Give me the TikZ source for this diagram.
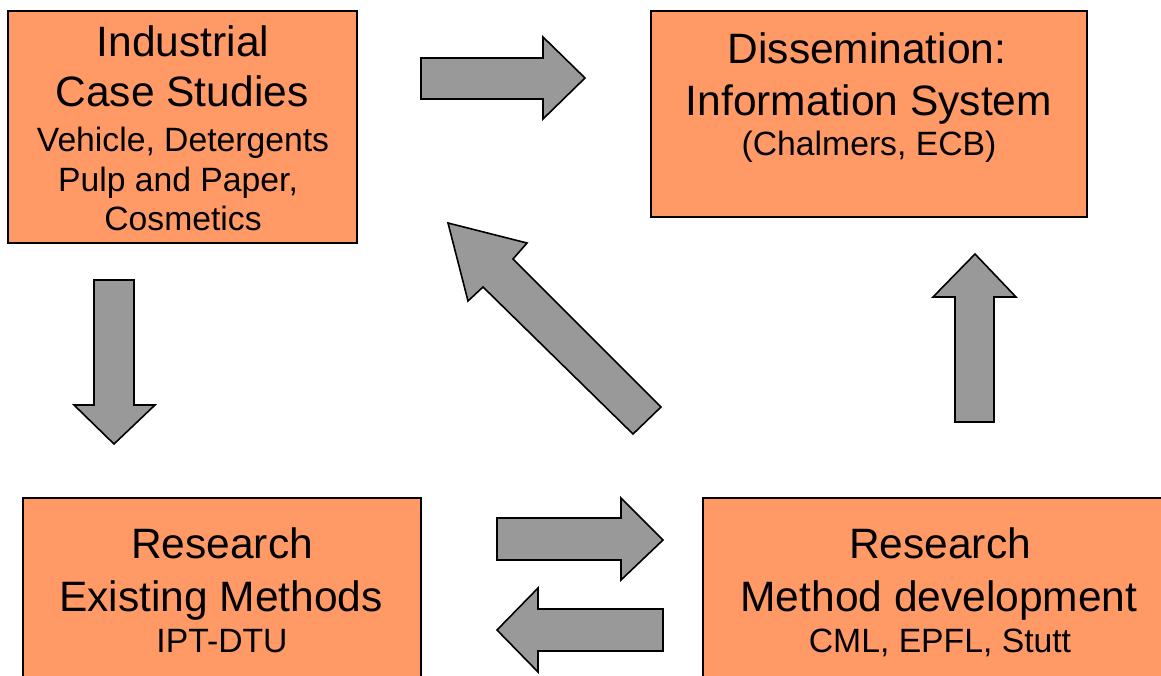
\documentclass[tikz,border=0pt]{standalone}
\usepackage{fontspec}
\setmainfont{Liberation Sans}
\definecolor{boxorange}{HTML}{FF9966}
\definecolor{arrowgray}{HTML}{999999}
\begin{document}
\begin{tikzpicture}[x=1pt,y=-1pt,
  box/.style={draw=black,fill=boxorange,line width=1.6pt,inner sep=0pt,outer sep=0pt,anchor=north west},
  blockarrow/.style={draw=black,fill=arrowgray,line width=1.6pt,line join=miter},
  big/.style={font=\fontsize{42.5}{50}\selectfont,inner sep=0pt,anchor=base},
  small/.style={font=\fontsize{33.7}{40}\selectfont,inner sep=0pt,anchor=base}]
\useasboundingbox (0,0) rectangle (1161,675);
\begin{scope}
\clip (0,0) rectangle (1161,675);
% boxes
\node[box, minimum width=349pt, minimum height=232pt] (ics) at (8,11) {};
\node[box, minimum width=436pt, minimum height=206pt] (dis) at (651,11) {};
\node[box, minimum width=398pt, minimum height=222pt] (rem) at (23,498) {};
\node[box, minimum width=474pt, minimum height=222pt] (rmd) at (703,498) {};
% texts
\node[big]   (ics1) at (183,56)  {Industrial};
\node[big]   (ics2) at (182,106) {Case Studies};
\node[small] (ics3) at (183,151) {Vehicle, Detergents};
\node[small] (ics4) at (178,191) {Pulp and Paper,};
\node[small] (ics5) at (183,230) {Cosmetics};
\node[big]   (dis1) at (867,63)  {Dissemination:};
\node[big]   (dis2) at (869,115) {Information System};
\node[small] (dis3) at (869,155) {(Chalmers, ECB)};
\node[big]   (rem1) at (222,558) {Research};
\node[big]   (rem2) at (221,611) {Existing Methods};
\node[small] (rem3) at (222,652) {IPT-DTU};
\node[big]   (rmd1) at (940,558) {Research};
\node[big]   (rmd2) at (939,611) {Method development};
\node[small] (rmd3) at (940,652) {CML, EPFL, Stutt};
% block arrows
% Industrial -> Dissemination
\draw[blockarrow] (421,58) -- (543,58) -- (543,37) -- (585,78) -- (543,119) -- (543,99) -- (421,99) -- cycle;
% Industrial -> Existing methods
\draw[blockarrow] (94,280) -- (134,280) -- (134,405) -- (155,405) -- (114,444) -- (74,405) -- (94,405) -- cycle;
% Method development -> Industrial (diagonal)
\draw[blockarrow] (448,223) -- (527,243) -- (513,259) -- (661,407) -- (633,434) -- (483,287) -- (468,301) -- cycle;
% Method development -> Dissemination
\draw[blockarrow] (955,422) -- (955,297) -- (933,297) -- (975,254) -- (1016,297) -- (994,297) -- (994,422) -- cycle;
% Existing -> Method development
\draw[blockarrow] (497,518) -- (621,518) -- (621,498) -- (663,540) -- (621,580) -- (621,560) -- (497,560) -- cycle;
% Method development -> Existing
\draw[blockarrow] (663,609) -- (538,609) -- (538,588) -- (497,630) -- (538,672) -- (538,651) -- (663,651) -- cycle;
\end{scope}
\end{tikzpicture}
\end{document}
